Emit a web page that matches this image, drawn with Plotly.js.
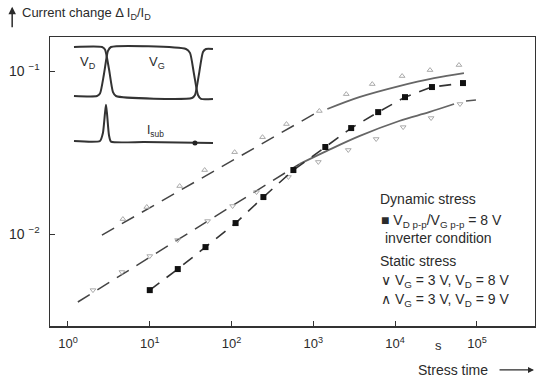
<!DOCTYPE html>
<html>
<head>
<meta charset="utf-8">
<script src="https://cdn.plot.ly/plotly-3.0.1.min.js"></script>
<style>html,body{margin:0;padding:0;background:#fff;}#chart{width:536px;height:382px;}</style>
</head>
<body>
<div id="chart"></div>
<script>
// ---- data ----
// Dynamic stress (filled squares)
const dynX = [10, 22, 48, 112, 245, 570, 1400, 2900, 6200, 13200, 28200, 67500];
const dynY = [0.00453, 0.0061, 0.00832, 0.01168, 0.01687, 0.0247, 0.0342, 0.0447, 0.056, 0.0692, 0.0798, 0.0844];

// Static stress VG=3V, VD=8V (v markers)
const st8X = [2.02, 4.56, 10.0, 21.9, 50.9, 103, 202, 496, 1150, 2673, 5860, 12530, 27500, 62100];
const st8Y = [0.00453, 0.00585, 0.00733, 0.00919, 0.01202, 0.01486, 0.0181, 0.0224, 0.0277, 0.0328, 0.0383, 0.0453, 0.0515, 0.0628];
const st8DashX = [1.32, 675];
const st8DashY = [0.00383, 0.0269];
const st8FitX = [675, 1442, 3640, 11190, 26000, 52500];
const st8FitY = [0.0269, 0.0323, 0.0399, 0.0494, 0.0560, 0.0628];
const st8TailX = [73500, 97200];
const st8TailY = [0.0655, 0.0664];

// Static stress VG=3V, VD=9V (^ markers)
const st9X = [4.69, 9.19, 23.2, 46.9, 109, 239, 469, 1183, 2525, 5250, 12170, 26700, 60300];
const st9Y = [0.01236, 0.01466, 0.0197, 0.0247, 0.0318, 0.0393, 0.0473, 0.0569, 0.0722, 0.0832, 0.0932, 0.1014, 0.1089];
const st9DashX = [2.6, 1183];
const st9DashY = [0.00986, 0.0569];
const st9FitX = [1482, 3640, 11190, 29900, 69400];
const st9FitY = [0.0585, 0.0692, 0.0809, 0.0905, 0.0972];

// Inset waveforms (schematic time units / levels)
const vdT = [0, 2.8, 3.1, 3.5, 3.9, 4.2, 11.8, 12.1, 12.5, 12.9, 13.2, 13.9];
const vdV = [1, 1, 0.95, 0.55, 0.08, 0, -0.04, 0.02, 0.45, 0.9, 0.96, 0.96];
const vgT = [0, 2.3, 2.6, 3.0, 3.4, 3.7, 11.2, 11.6, 12.0, 12.4, 12.7, 13.9];
const vgV = [0, 0, 0.05, 0.45, 0.92, 1, 0.96, 0.88, 0.45, 0.02, -0.06, -0.06];
const isT = [0, 2.6, 2.9, 3.1, 3.2, 3.3, 3.5, 3.7, 7, 13.9];
const isV = [-0.918, -0.918, -0.75, -0.35, -0.18, -0.35, -0.8, -0.93, -0.94, -0.96];
const isDotT = [12.1];
const isDotV = [-0.96];

const xTicks = [1, 10, 100, 1e3, 1e4, 1e5];
const xTickText = ['10<sup>0</sup>', '10<sup>1</sup>', '10<sup>2</sup>', '10<sup>3</sup>', '10<sup>4</sup>', '10<sup>5</sup>'];
const yTicks = [0.01, 0.1];
const yTickText = ['10 <sup>\u22122</sup>', '10 <sup>\u22121</sup>'];

// ---- traces ----
const ink = '#2b2b2b';
const traces = [
  {x: st9DashX, y: st9DashY, mode: 'lines', line: {color: '#444', width: 1.5, dash: '14px,9px'}},
  {x: st9FitX, y: st9FitY, mode: 'lines', line: {color: '#666', width: 1.8, shape: 'spline'}},
  {x: st9X, y: st9Y, mode: 'markers', marker: {symbol: 'triangle-up-open', size: 5, color: '#aaa', line: {width: 1, color: '#aaa'}}},
  {x: st8DashX, y: st8DashY, mode: 'lines', line: {color: '#444', width: 1.5, dash: '14px,9px'}},
  {x: st8FitX, y: st8FitY, mode: 'lines', line: {color: '#666', width: 1.8, shape: 'spline'}},
  {x: st8TailX, y: st8TailY, mode: 'lines', line: {color: '#555', width: 1.5}},
  {x: st8X, y: st8Y, mode: 'markers', marker: {symbol: 'triangle-down-open', size: 5, color: '#aaa', line: {width: 1, color: '#aaa'}}},
  {x: dynX, y: dynY, mode: 'lines', line: {color: '#333', width: 1.6, dash: '12px,9px'}},
  {x: dynX, y: dynY, mode: 'markers', marker: {symbol: 'square', size: 6, color: '#111'}},
  {x: vdT, y: vdV, xaxis: 'x2', yaxis: 'y2', mode: 'lines', line: {color: '#333', width: 2, shape: 'spline', smoothing: 0.6}},
  {x: vgT, y: vgV, xaxis: 'x2', yaxis: 'y2', mode: 'lines', line: {color: '#333', width: 2, shape: 'spline', smoothing: 0.6}},
  {x: isT, y: isV, xaxis: 'x2', yaxis: 'y2', mode: 'lines', line: {color: '#333', width: 2, shape: 'spline', smoothing: 0.5}},
  {x: isDotT, y: isDotV, xaxis: 'x2', yaxis: 'y2', mode: 'markers', marker: {size: 5, color: '#222'}}
];

const F = 'Liberation Sans, Arial, sans-serif';
function note(text, x, y, opts) {
  return Object.assign({text: text, x: x, y: y, xref: 'paper', yref: 'paper', showarrow: false,
    xanchor: 'left', yanchor: 'middle', font: {family: F, size: 14, color: ink}}, opts || {});
}

const layout = {
  width: 536, height: 382,
  margin: {l: 50, r: 1, t: 37, b: 56, pad: 0},
  paper_bgcolor: '#fff', plot_bgcolor: '#fff',
  showlegend: false,
  font: {family: F, size: 13, color: ink},
  xaxis: {type: 'log', range: [-0.22, 5.71], tickvals: xTicks, ticktext: xTickText,
    ticks: 'inside', ticklen: 5, tickcolor: '#333', showline: true, mirror: true, linecolor: '#333', linewidth: 1.5,
    showgrid: false, zeroline: false, tickfont: {family: F, size: 13, color: ink}, ticklabelstandoff: 5},
  yaxis: {type: 'log', range: [-2.564, -0.791], tickvals: yTicks, ticktext: yTickText,
    ticks: 'inside', ticklen: 5, tickcolor: '#333', showline: true, mirror: true, linecolor: '#333', linewidth: 1.5,
    showgrid: false, zeroline: false, tickfont: {family: F, size: 14, color: ink}, ticklabelstandoff: 6},
  xaxis2: {domain: [0.0412, 0.3505], anchor: 'y2', range: [-0.4, 14.6], visible: false},
  yaxis2: {domain: [0.609, 0.9896], anchor: 'x2', range: [-1.102, 1.143], visible: false},
  annotations: [
    note('Current change \u0394 I<sub>D</sub>/I<sub>D</sub>', -0.062, 1.08, {font: {family: F, size: 13, color: ink}}),
    {text: '', x: -0.078, y: 1.105, xref: 'paper', yref: 'paper', showarrow: true, ax: 0, ay: 22,
      arrowhead: 2, arrowsize: 1, arrowwidth: 1.5, arrowcolor: ink},
    note('Stress time', 0.755, -0.152),
    {text: '', x: 0.998, y: -0.152, xref: 'paper', yref: 'paper', showarrow: true, ax: -36, ay: 0,
      arrowhead: 2, arrowsize: 1, arrowwidth: 1.2, arrowcolor: ink},
    note('s', 0.8, -0.066, {xanchor: 'center', font: {family: F, size: 13, color: ink}}),
    note('Dynamic stress', 0.676, 0.4394),
    note('\u25A0 V<sub>D p-p</sub>/V<sub>G p-p</sub> = 8 V', 0.678, 0.3633),
    note('inverter condition', 0.686, 0.3045),
    note('Static stress', 0.676, 0.2249),
    note('\u2228 V<sub>G</sub> = 3 V, V<sub>D</sub> = 8 V', 0.678, 0.1557),
    note('\u2227 V<sub>G</sub> = 3 V, V<sub>D</sub> = 9 V', 0.678, 0.09),
    {text: 'V<sub>D</sub>', x: 0.4, y: 0.69, xref: 'x2', yref: 'y2', showarrow: false, xanchor: 'left', font: {family: F, size: 13, color: ink}},
    {text: 'V<sub>G</sub>', x: 7.3, y: 0.69, xref: 'x2', yref: 'y2', showarrow: false, xanchor: 'left', font: {family: F, size: 13, color: ink}},
    {text: 'I<sub>sub</sub>', x: 7.1, y: -0.72, xref: 'x2', yref: 'y2', showarrow: false, xanchor: 'left', font: {family: F, size: 12, color: ink}}
  ]
};

Plotly.newPlot('chart', traces, layout, {staticPlot: true, displayModeBar: false});
</script>
</body>
</html>
